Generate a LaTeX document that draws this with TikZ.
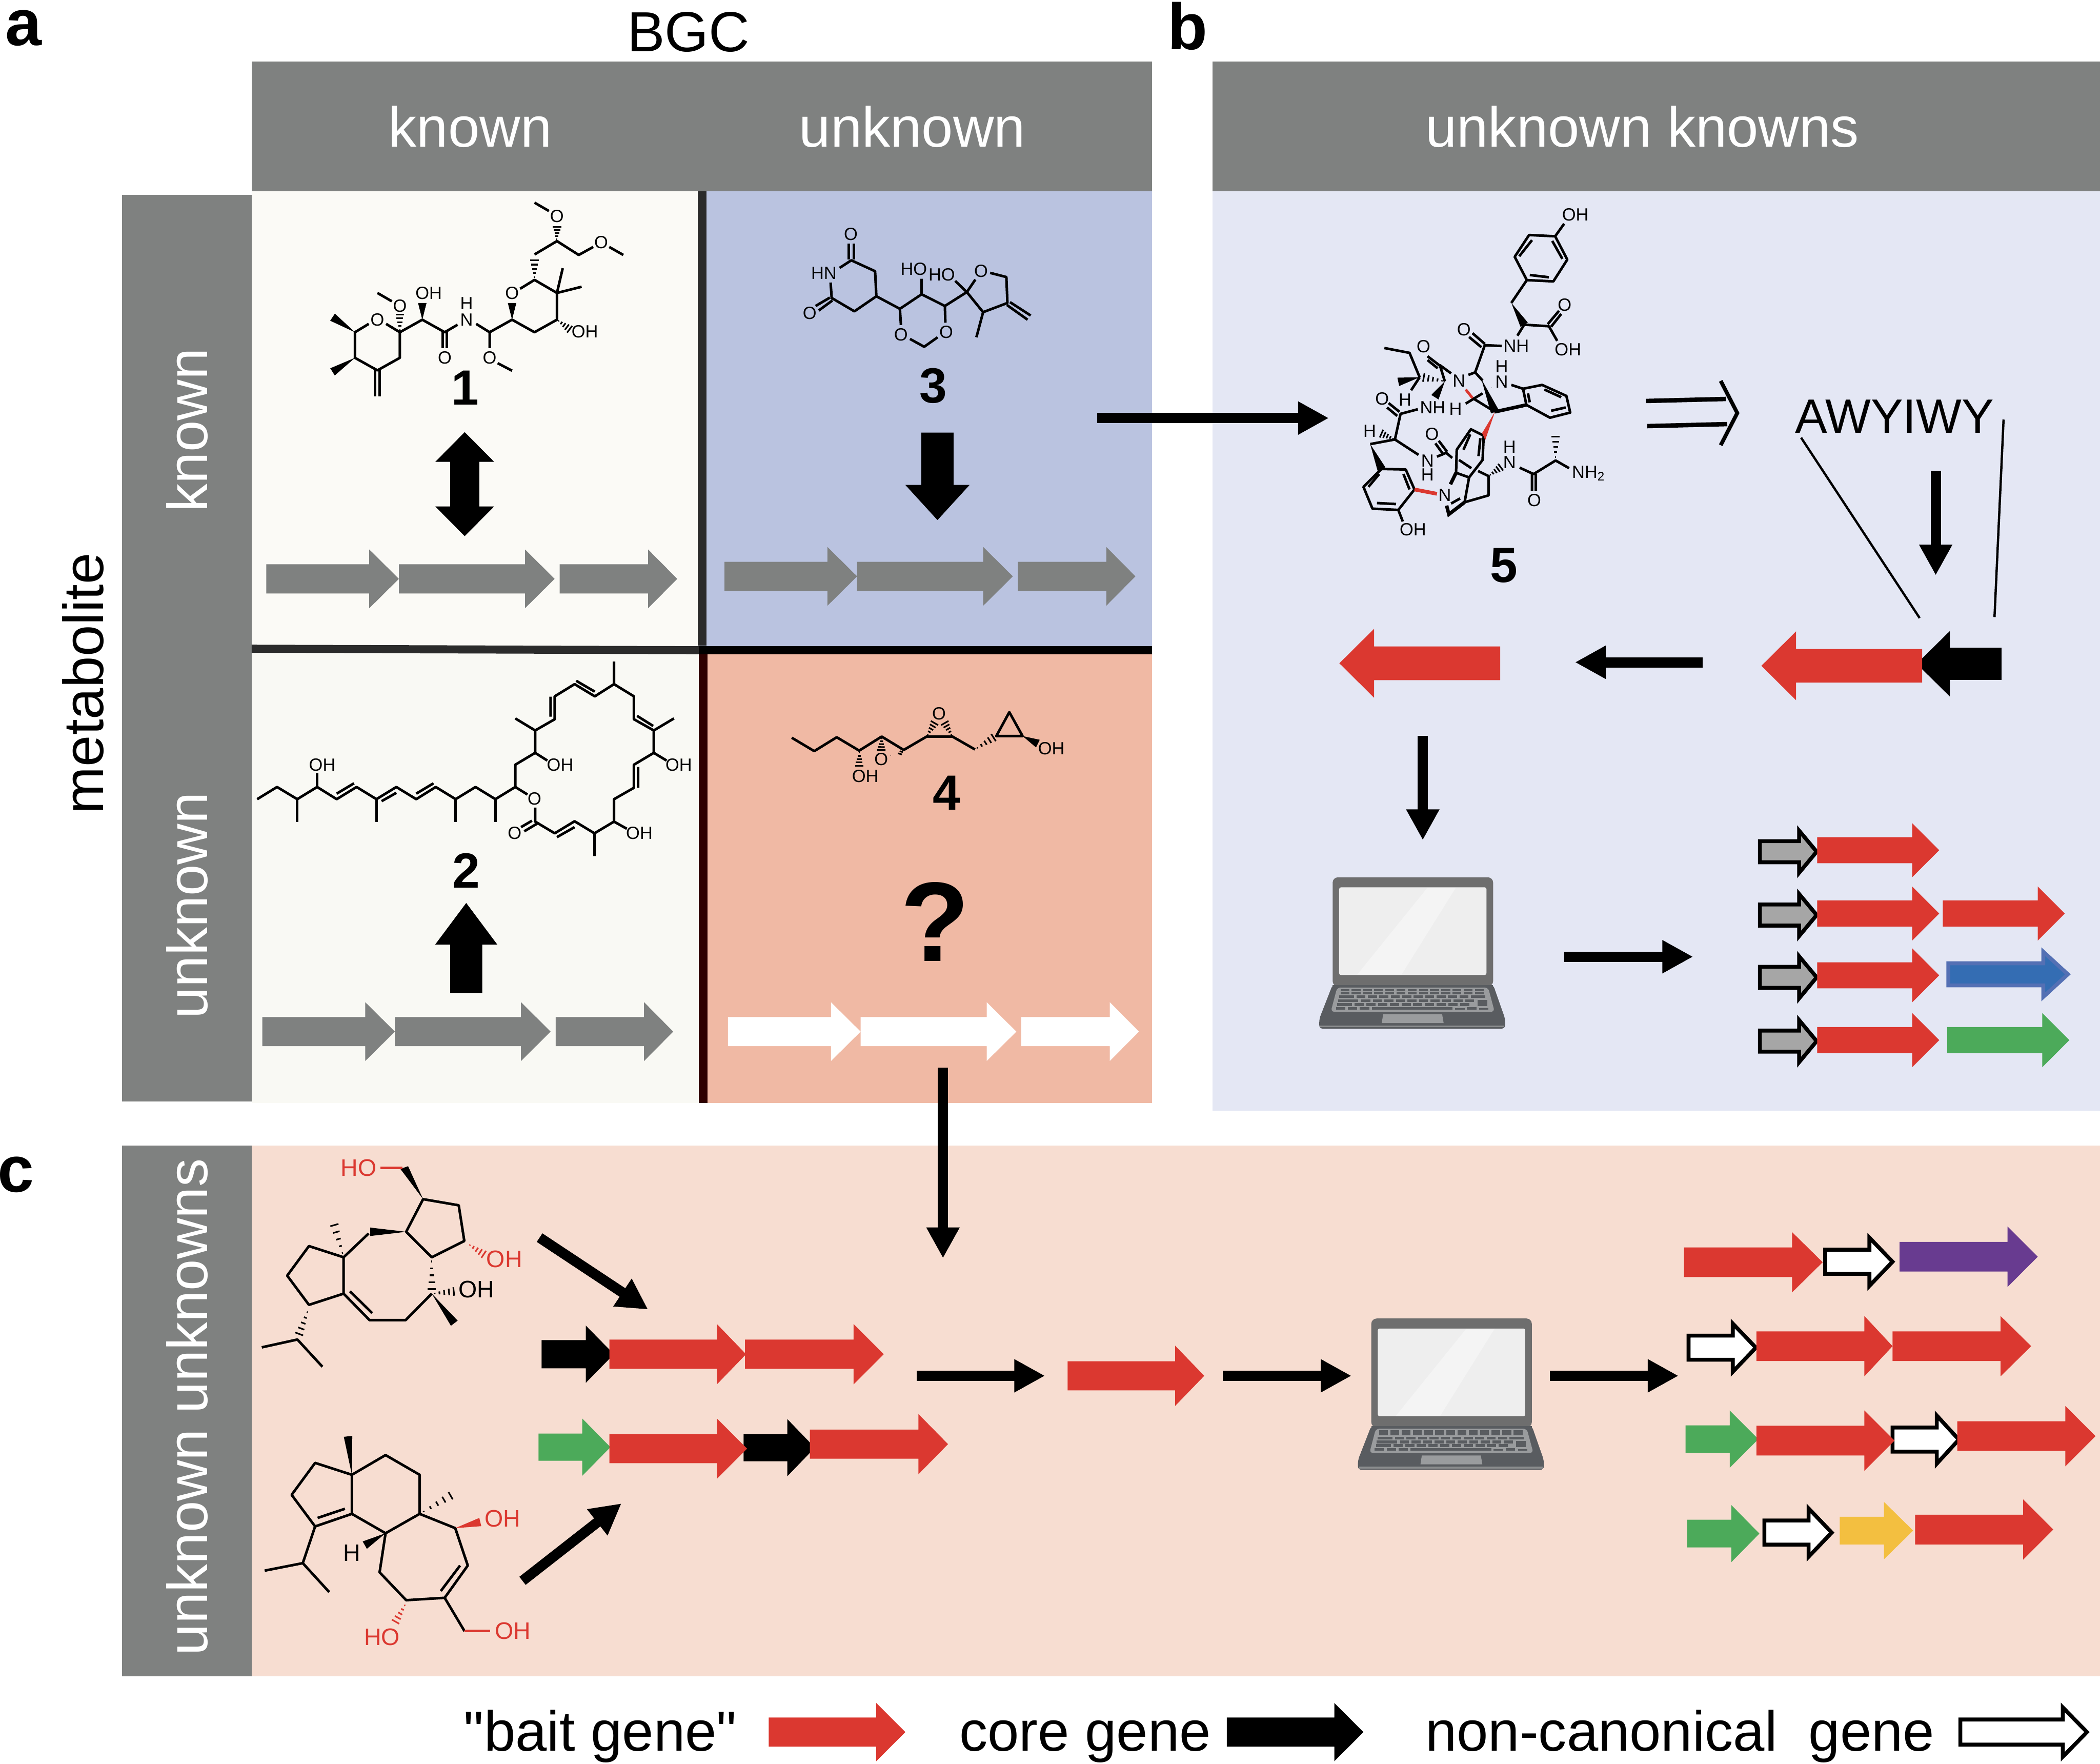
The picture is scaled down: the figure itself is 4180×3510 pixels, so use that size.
\documentclass[tikz,border=0pt]{standalone}
\usepackage{fontspec}
\setmainfont{Liberation Sans}
\newfontfamily\plainsans{Liberation Sans}
\usetikzlibrary{calc,arrows.meta}
\definecolor{hdrgray}{HTML}{7F8180}
\definecolor{cellA}{HTML}{FBFAF6}
\definecolor{cellB}{HTML}{BAC3E0}
\definecolor{cellC}{HTML}{F9F9F4}
\definecolor{cellD}{HTML}{F0B9A4}
\definecolor{panelB}{HTML}{E4E7F4}
\definecolor{panelC}{HTML}{F7DDD1}
\definecolor{genered}{HTML}{DB3830}
\definecolor{genegreen}{HTML}{4CAA5A}
\definecolor{genepurple}{HTML}{683B90}
\definecolor{geneyellow}{HTML}{F3BF40}
\definecolor{geneblue}{HTML}{346DB3}
\definecolor{geneblueb}{HTML}{5470B4}
\definecolor{genegray}{HTML}{A6A6A6}
\definecolor{lpLid}{HTML}{6E6E6E}
\definecolor{lpBase}{HTML}{595C60}
\definecolor{lpKey}{HTML}{9A9C9E}
\tikzset{
  bond/.style={line width=1.45pt,line cap=butt,line join=round},
  flowline/.style={line width=5.8pt,-{Triangle[length=17.4pt,width=17.6pt]}},
  thinln/.style={line width=1.3pt},
  hdrtext/.style={text=white,font=\fontsize{32}{36}\selectfont,inner sep=0pt},
  hdrbase/.style={hdrtext,anchor=base},
  blacktext/.style={text=black,font=\fontsize{32}{36}\selectfont,inner sep=0pt},
  legendtext/.style={blacktext,anchor=base,font=\plainsans\fontsize{32}{36}\selectfont},
  panellbl/.style={text=black,font=\bfseries\fontsize{37}{40}\selectfont,inner sep=0pt},
  cmpd/.style={text=black,font=\bfseries\fontsize{28}{30}\selectfont,inner sep=0pt},
  atomlbl/.style={inner sep=0pt,font=\fontsize{10}{10.5}\selectfont},
  atomlblb/.style={inner sep=0pt,font=\fontsize{13.5}{14}\selectfont},
}
\newcounter{atc}\newcounter{flc}
\newcommand\atm[3][black]{\stepcounter{atc}\node[atomlbl,text=#1] (at\theatc) at (#2) {#3};}
\newcommand\atb[3][black]{\stepcounter{atc}\node[atomlblb,text=#1] (at\theatc) at (#2) {#3};}
\newcommand\flow[2]{\stepcounter{flc}\coordinate (f\theflc s) at (#1);\coordinate (f\theflc e) at (#2);\draw[flowline] (f\theflc s) -- (f\theflc e);}
\newcommand\wdg[3][black]{\fill[#1] (#2) -- ($(#3)!2.4pt!90:(#2)$) -- ($(#3)!2.4pt!-90:(#2)$) -- cycle;}
\newcommand\hsh[3][black]{\foreach \hT in {0.12,0.32,0.52,0.72,0.92}{\draw[#1,line width=.9pt] ($($(#2)!\hT!(#3)$)!\hT*2.6pt!90:(#3)$) -- ($($(#2)!\hT!(#3)$)!\hT*2.6pt!-90:(#3)$);}}
% block arrow: style, tail x, head base x, tip x, y, shaft half, head half
\newcommand\barr[7]{\path[#1] (#2,{#5-#6}) -- (#3,{#5-#6}) -- (#3,{#5-#7}) -- (#4,#5) -- (#3,{#5+#7}) -- (#3,{#5+#6}) -- (#2,{#5+#6}) -- cycle;}
% outlined block arrow (outer dimensions given, left to right), stroke colour, fill, ...
\newcommand\oarr[8]{\path[draw=#1,fill=#2,line width=2.2pt,line join=miter] ({#3+4},{#6-#7+4}) -- ({#4+4},{#6-#7+4}) -- ({#4+4},{#6-#8+9}) -- ({#5-6},#6) -- ({#4+4},{#6+#8-9}) -- ({#4+4},{#6+#7-4}) -- ({#3+4},{#6+#7-4}) -- cycle;}
\newcommand\laptop[2]{%
\begin{scope}[shift={(#1,#2)},x=0.003333cm,y=-0.003333cm]
 \fill[lpBase,rounded corners=2pt] (218,720) -- (1178,720) -- (1250,925) -- (1250,983) -- (138,983) -- (138,925) -- cycle;
 \fill[lpLid,rounded corners=3pt] (218,730) -- (218,78) -- (1178,78) -- (1178,730) -- cycle;
 \fill[lpBase] (218,722) rectangle (1178,732);
 \fill[lpKey!90!black] (145,965) rectangle (1243,975);
 \fill[lpKey,rounded corners=2pt] (245,737) -- (1148,737) -- (1187,882) -- (207,882) -- cycle;
 \fill[lpKey] (520,897) -- (873,897) -- (882,950) -- (512,950) -- cycle;
 \fill[white!88!lpLid,rounded corners=1pt] (257,138) rectangle (1138,662);
 \fill[white!92!lpLid] (365,660) -- (785,140) -- (955,140) -- (630,660) -- cycle;
 \begin{scope}[lpBase]
  \foreach \kI in {0,...,12}{\fill ({265+67*\kI},747) rectangle ++(53,13); \fill ({265+67*\kI},763) rectangle ++(53,14);}
  \fill (257,785) rectangle (345,800); \fill (1045,785) rectangle (1130,800);
  \foreach \kI in {0,...,9}{\fill ({360+68.5*\kI},785) rectangle ++(54,15);}
  \fill (250,808) rectangle (372,825); \foreach \kI in {0,...,9}{\fill ({390+69*\kI},808) rectangle ++(54,17);}
  \fill (245,830) rectangle (335,847); \foreach \kI in {0,...,9}{\fill ({350+70*\kI},830) rectangle ++(55,17);}
  \fill (1085,810) rectangle (1142,847);
  \fill (238,853) rectangle (293,869); \fill (310,853) rectangle (365,869); \fill (380,853) rectangle (437,869);
  \fill (452,853) rectangle (935,869); \fill (950,860) rectangle (1008,869); \fill (1022,853) rectangle (1078,869); \fill (1095,860) rectangle (1150,869);
 \end{scope}
\end{scope}}
\begin{document}
\begin{tikzpicture}[x=0.01cm,y=-0.01cm]
\path[use as bounding box,fill=white] (0,0) rectangle (4180,3510);
% panel a
\fill[hdrgray] (501,122) rectangle (2293,381);
\fill[hdrgray] (243,388) rectangle (501,2192);
\fill[cellA] (501,381) rectangle (1392,1290);
\fill[cellB] (1392,381) rectangle (2293,1295);
\fill[cellC] (501,1290) rectangle (1395,2195);
\fill[cellD] (1395,1295) rectangle (2293,2195);
\fill[black!83] (1389,381) rectangle (1406,1285);
\fill[black!83] (501,1283) -- (1391,1286) -- (1391,1302) -- (501,1299) -- cycle;
\fill[black] (1391,1286) rectangle (2293,1302);
\fill[black!70!red!60!black] (1391,1302) rectangle (1408,2195);
% panel b
\fill[hdrgray] (2413,122) rectangle (4180,381);
\fill[panelB] (2413,381) rectangle (4180,2210);
% panel c
\fill[hdrgray] (243,2280) rectangle (501,3336);
\fill[panelC] (501,2280) rectangle (4180,3336);
% titles
\node[panellbl] (la) at (47,56) {a};
\node[panellbl] (lb) at (2364,52) {b};
\node[panellbl] (lc) at (32,2338) {c};
\node[blacktext] (tBGC) at (1370,64) {BGC};
\node[hdrbase] (h1) at (936,292) {known};
\node[hdrbase] (h2) at (1816,292) {unknown};
\node[hdrbase] (h3) at (3269,292) {unknown knowns};
\node[hdrtext,rotate=90] (v1) at (373,856) {known};
\node[hdrtext,rotate=90] (v2) at (373,1802) {unknown};
\node[hdrtext,rotate=90] (v3) at (373,2800) {unknown unknowns};
\node[blacktext,rotate=90] (v4) at (165,1360) {metabolite};
% gene rows in panel a
\tikzset{gy/.style={fill=hdrgray},wh/.style={fill=white},rd/.style={fill=genered},bk/.style={fill=black},gn/.style={fill=genegreen},pp/.style={fill=genepurple},yl/.style={fill=geneyellow}}
\barr{gy}{530}{735}{794}{1152}{29}{58.5}\barr{gy}{794}{1045}{1104}{1152}{29}{58.5}\barr{gy}{1114}{1290}{1348}{1152}{29}{58.5}
\barr{gy}{1442}{1647}{1706}{1147}{29}{58.5}\barr{gy}{1706}{1957}{2016}{1147}{29}{58.5}\barr{gy}{2026}{2202}{2260}{1147}{29}{58.5}
\barr{gy}{522}{727}{786}{2053}{29}{58.5}\barr{gy}{786}{1037}{1096}{2053}{29}{58.5}\barr{gy}{1106}{1282}{1340}{2053}{29}{58.5}
\barr{wh}{1449}{1654}{1713}{2053}{29}{58.5}\barr{wh}{1713}{1964}{2023}{2053}{29}{58.5}\barr{wh}{2033}{2209}{2267}{2053}{29}{58.5}
% big black arrows panel a
\fill[black] (925,860) -- (983.5,919) -- (954,919) -- (954,1008) -- (983.5,1008) -- (925,1067) -- (866.5,1008) -- (896,1008) -- (896,919) -- (866.5,919) -- cycle;
\fill[black] (1866,1035) -- (1802,965) -- (1834,965) -- (1834,861) -- (1898,861) -- (1898,965) -- (1930,965) -- cycle;
\fill[black] (928,1797) -- (990,1880) -- (960,1880) -- (960,1976) -- (896,1976) -- (896,1880) -- (866,1880) -- cycle;
\node[text=black,font=\bfseries\fontsize{64}{66}\selectfont,inner sep=0pt] (qm) at (1861,1834) {?};
% molecule 1
\begin{scope}[shift={(480,370)},x=0.006378cm,y=-0.003333cm]
\draw[bond] (398,825) -- (355,875) -- (355,1028) -- (425,1103) -- (495,1028) -- (495,875) -- (452,825);
\draw[bond] (418,1103) -- (418,1260) (432,1103) -- (432,1260);
\wdg{355,875}{285,785}\wdg{355,1028}{285,1112}
\hsh{495,875}{495,760}
\draw[bond] (470,690) -- (425,640);
\draw[bond] (495,875) -- (565,800) -- (635,875) -- (675,830);
\wdg{565,800}{565,700}
\draw[bond] (628,875) -- (628,970) (642,875) -- (642,970);
\draw[bond] (733,825) -- (775,875) -- (775,970) (800,1060) -- (845,1105);
\draw[bond] (775,875) -- (845,800) -- (915,875) -- (985,800) -- (985,640) -- (915,562) -- (870,615);
\wdg{845,800}{845,700}
\hsh{985,800}{1028,862}
\draw[bond] (985,640) -- (1003,492) (985,640) -- (1062,603);
\hsh{915,562}{915,435}
\draw[bond] (915,410) -- (985,330) -- (1053,413) -- (1098,365) (1148,365) -- (1192,413);
\hsh{985,330}{985,238}
\draw[bond] (960,150) -- (915,100);
\atm{425,800}{O}\atm{495,718}{O}\atm{585,642}{OH}\atm{635,1028}{O}\atm{703,800}{N}\atm{703,702}{H}\atm{775,1028}{O}\atm{845,642}{O}\atm{1072,872}{OH}\atm{1123,338}{O}\atm{985,180}{O}
\end{scope}
\node[cmpd] (c1) at (926,772) {1};
% molecule 2
\begin{scope}[shift={(480,1260)},x=0.006378cm,y=-0.003333cm]
\draw[bond] (50,993) -- (112,920) -- (175,993) -- (237,920) -- (298,993) -- (360,920) -- (422,993) -- (484,920) -- (546,993) -- (607,920) -- (669,993) -- (731,920) -- (793,993) -- (855,920) -- (893,965);
\draw[bond] (175,993) -- (175,1128) (422,993) -- (422,1128) (669,993) -- (669,1128) (793,993) -- (793,1128) (237,920) -- (237,838);
\draw[bond] (298,960) -- (352,898) (438,1005) -- (484,955) (546,960) -- (600,898);
\draw[bond] (855,920) -- (855,787) -- (917,716) -- (917,582) -- (855,510) (917,716) -- (955,762);
\draw[bond] (917,582) -- (978,515) -- (978,378) -- (1040,305) -- (1103,378) -- (1163,305) -- (1163,170) (1163,305) -- (1225,378) -- (1225,515) -- (1287,582) -- (1350,510) (1287,582) -- (1287,716) -- (1225,787) -- (1225,925) -- (1163,993) -- (1163,1127) -- (1102,1197) -- (1040,1125) -- (978,1197) -- (917,1127) -- (917,1043);
\draw[bond] (1163,1127) -- (1203,1170) (1102,1197) -- (1102,1333) (1287,716) -- (1327,762);
\draw[bond] (907,1122) -- (873,1160) (925,1137) -- (883,1185);
\draw[bond] (965,380) -- (965,500) (1045,285) -- (1103,350) (1235,495) -- (1285,555) (1238,800) -- (1238,925) (985,1220) -- (1040,1160);
\atm{253,787}{OH}\atm{915,990}{O}\atm{995,787}{OH}\atm{1365,787}{OH}\atm{1242,1197}{OH}\atm{853,1197}{O}
\end{scope}
\node[cmpd] (c2) at (928,1733) {2};
% molecule 3
\begin{scope}[shift={(1500,370)},x=0.005141cm,y=-0.003333cm]
\draw[bond] (333,490) -- (378,445) -- (470,510) -- (475,660) -- (390,750) -- (302,670) -- (298,578);
\draw[bond] (368,440) -- (368,345) (388,440) -- (388,345);
\draw[bond] (295,668) -- (240,718) (305,685) -- (252,745);
\draw[bond] (475,660) -- (566,735) -- (650,648) -- (740,718) -- (825,635) (650,648) -- (650,555);
\draw[bond] (566,735) -- (570,832) (605,915) -- (660,962) -- (712,905) (742,818) -- (740,718);
\draw[bond] (825,635) -- (780,568) (825,635) -- (858,560) (915,520) -- (978,545) -- (982,700) -- (888,755) -- (825,635) (888,755) -- (862,905);
\draw[bond] (980,712) -- (1060,800) (992,695) -- (1072,775);
\atm{376,287}{O}\atm{272,522}{HN}\atm{217,762}{O}\atm{620,497}{HO}\atm{728,530}{HO}\atm{880,510}{O}\atm{570,888}{O}\atm{745,875}{O}
\end{scope}
\node[cmpd] (c3) at (1858,768) {3};
% molecule 4
\begin{scope}[shift={(1500,1380)},x=0.004464cm,y=-0.003333cm]
\draw[bond] (170,265) -- (270,345) -- (370,262) -- (470,342) -- (570,258) -- (668,338) -- (770,258) -- (885,258) -- (985,335);
\hsh{470,342}{470,440}\hsh{570,258}{568,345}
\draw[line width=.9pt] (650,345) -- (664,351) (642,358) -- (660,365);
\hsh{770,258}{808,170}\hsh{885,258}{848,170}\hsh{985,335}{1075,258}
\draw[bond] (1080,255) -- (1197,255) -- (1138,112) -- cycle;
\wdg{1197,255}{1265,300}
\fill (610,372) circle (1.2);
\atm{497,495}{OH}\atm{568,395}{O}\atm{825,122}{O}\atm{1325,330}{OH}
\end{scope}
\node[cmpd] (c4) at (1884,1578) {4};
% flow arrows a->b, 4->c
\flow{2184,832}{2645,832}
\flow{1877,2125}{1877,2504}
% molecule 5
\begin{scope}[shift={(2620,380)},x=0.004464cm,y=-0.0051cm]
\draw[bond] (1063,177) -- (1117,268) -- (1055,353) -- (937,348) -- (883,257) -- (947,172) -- cycle;
\draw[bond] (1050,195) -- (1095,265) (1035,337) -- (950,328) (903,255) -- (960,192);
\draw[bond] (1063,177) -- (1103,128) (937,348) -- (868,437);
\wdg{868,437}{925,522}
\draw[bond] (925,522) -- (1035,528) -- (1072,585) (1030,520) -- (1080,468) (1045,530) -- (1090,480) (925,522) -- (895,565);
\draw[bond] (825,605) -- (750,602) -- (707,708) -- (677,718);
\draw[bond] (750,597) -- (695,555) (735,610) -- (680,570);
\draw[bond] (600,712) -- (550,680) -- (572,743) (550,682) -- (495,645) (540,692) -- (495,660);
\wdg{572,743}{528,805}
\hsh{572,743}{470,727}
\draw[bond] (460,727) -- (415,632) -- (303,613) (460,727) -- (422,778);
\wdg{460,727}{365,745}
\draw[bond] (452,852) -- (375,870) -- (350,970) (370,862) -- (322,828) (360,878) -- (315,845);
\hsh{350,970}{285,945}
\draw[bond] (350,970) -- (240,988) (350,970) -- (455,1030);
\wdg{240,988}{290,1085}
\draw[bond] (537,1037) -- (578,1022) -- (605,1042) (565,1028) -- (530,985) (582,1018) -- (545,975);
\draw[bond] (290,1085) -- (398,1087) -- (437,1165) -- (365,1245) -- (250,1240) -- (210,1155) -- cycle;
\draw[bond] (280,1105) -- (232,1155) (388,1105) -- (415,1165) (270,1218) -- (355,1222) (365,1245) -- (385,1290);
\draw[genered,line width=2.1pt] (437,1165) -- (537,1182);
\draw[bond] (688,930) -- (745,955) -- (740,1050) -- (680,1118) -- (622,1100) -- (625,1010) -- cycle;
\draw[bond] (730,965) -- (722,1035) (685,950) -- (655,1010) (635,1050) -- (690,1082);
\fill[genered] (795,862) -- (752,972) -- (738,945) -- cycle;
\draw[line width=2pt] (795,862) -- (935,835);
\draw[bond] (935,835) -- (920,772) -- (1005,757) -- (1113,800) -- (1130,865) -- (1040,885) -- cycle;
\draw[bond] (950,825) -- (942,790) (1015,775) -- (1090,805) (1045,858) -- (1110,845) (920,772) -- (868,757);
\draw[bond] (707,708) -- (740,740);
\wdg{735,735}{795,862}
\draw[bond] (740,790) -- (665,830) (695,808) -- (795,862);
\draw[genered,line width=1.5pt] (665,775) -- (695,808);
\fill (780,768) circle (1.2);
\draw[line width=2pt] (597,1145) -- (622,1100);
\draw[bond] (680,1118) -- (660,1215) (660,1215) -- (767,1188) -- (767,1113) -- (720,1093) (600,1220) -- (640,1200);
\draw[line width=2pt] (660,1215) -- (590,1262) -- (580,1228);
\hsh{767,1113}{825,1075}
\draw[bond] (905,1080) -- (967,1105) -- (1065,1052) -- (1125,1082) (960,1105) -- (960,1170) (977,1105) -- (977,1170);
\hsh{1065,1052}{1065,950}
\atm{1153,93}{OH}\atm{1105,445}{O}\atm{1120,618}{OH}\atm{890,605}{NH}\atm{657,540}{O}\atm{635,742}{N}\atm{825,745}{N}\atm{825,685}{H}\atm{477,607}{O}\atm{395,815}{H}\atm{518,845}{NH}\atm{620,852}{H}\atm{293,812}{O}\atm{238,938}{H}\atm{495,1053}{N}\atm{495,1108}{H}\atm{515,950}{O}\atm{430,1322}{OH}\atm{572,1188}{N}\atm{860,1060}{N}\atm{860,1000}{H}\atm{970,1207}{O}\atm{1212,1102}{NH$_{\mathrm{2}}$}
\end{scope}
\node[cmpd] (c5) at (2993,1125) {5};
% panel b reaction scheme
\draw[line width=2.5pt] (3276,798) -- (3435,794) (3279,848) -- (3438,844);
\draw[line width=2.2pt,line join=miter] (3425,758) -- (3458,822) -- (3425,886);
\node[text=black,font=\fontsize{27.3}{30}\selectfont,inner sep=0pt] (seq) at (3771,829) {AWYIWY};
\draw[thinln] (3585,871) -- (3821,1230) (3988,835) -- (3970,1228);
\flow{3853,937}{3853,1145}
\barr{bk}{3984}{3881}{3815}{1321}{32}{65}
\barr{rd}{3826}{3575}{3506}{1325}{33.5}{68.5}
\flow{3389,1318}{3135,1318}
\barr{rd}{2986}{2735}{2666}{1320}{33.5}{68.5}
\flow{2832,1464}{2832,1672}
\laptop{2580}{1720}
\flow{3114,1904}{3370,1904}
% right gene rows panel b
\oarr{black}{genegray}{3499}{3577}{3622}{1695}{25}{51}
\oarr{black}{genegray}{3499}{3577}{3622}{1821}{25}{51}
\oarr{black}{genegray}{3499}{3577}{3622}{1945}{25}{51}
\oarr{black}{genegray}{3499}{3577}{3622}{2072}{25}{51}
\barr{rd}{3617}{3806}{3860}{1692}{26}{54}
\barr{rd}{3617}{3806}{3860}{1818}{26}{54}
\barr{rd}{3867}{4056}{4110}{1818}{26}{54}
\barr{rd}{3617}{3806}{3860}{1941}{26}{54}
\oarr{geneblueb}{geneblue}{3874}{4063}{4122}{1939}{26}{54}
\barr{rd}{3617}{3806}{3860}{2070}{26}{54}
\barr{gn}{3876}{4065}{4119}{2070}{26}{54}
% panel c molecules
\begin{scope}[shift={(500,2260)},x=0.003827cm,y=-0.00676cm]
\draw[bond] (893,187) -- (1078,205) -- (1107,310) -- (938,358) -- (805,283) -- cycle;
\fill (893,187) -- (815,90) -- (775,98) -- cycle;
\draw[genered,bond] (672,95) -- (785,95);
\hsh[genered]{1125,318}{1215,352}
\hsh{938,358}{938,460}
\hsh{938,465}{1062,458}
\wdg{938,465}{1055,552}
\draw[bond] (938,465) -- (802,543) -- (615,543) -- (480,465) -- (480,358) (628,522) -- (513,458);
\draw[bond] (480,358) -- (300,325) -- (187,412) -- (300,498) -- (480,465) (480,358) -- (610,288);
\wdg{805,283}{618,283}
\hsh{480,358}{428,255}
\hsh{298,510}{245,590}
\draw[bond] (55,623) -- (240,600) -- (370,680);
\atb[genered]{558,95}{HO}\atb[genered]{1315,363}{OH}\atb{1170,452}{OH}
\draw[bond] (523,998) -- (332,963) -- (210,1057) -- (332,1150) -- (523,1113) -- cycle (345,1125) -- (487,1098);
\wdg{523,998}{503,885}
\draw[bond] (523,998) -- (698,940) -- (875,998) -- (875,1113) -- (698,1170) -- (523,1113);
\hsh{875,1113}{1050,1055}
\draw[bond] (875,1113) -- (1060,1155) -- (1125,1265) -- (1005,1360) -- (805,1367) -- (667,1285) -- (698,1170) (1085,1265) -- (985,1340) (1005,1360) -- (1108,1458);
\wdg[genered]{1060,1155}{1190,1137}
\draw[genered,bond] (1108,1458) -- (1240,1458);
\hsh[genered]{805,1375}{745,1435}
\wdg{698,1170}{590,1205}
\draw[bond] (332,1150) -- (268,1258) -- (70,1280) (268,1258) -- (405,1343);
\atb[genered]{1305,1127}{OH}\atb[genered]{1360,1458}{OH}\atb[genered]{680,1475}{HO}\atb{523,1228}{H}
\end{scope}
% panel c flows and genes
\flow{1074,2463}{1290,2606}
\flow{1040,3146}{1237,2992}
\barr{bk}{1078}{1166}{1222}{2695}{28}{57}
\barr{rd}{1213}{1427}{1485}{2695}{29}{60}
\barr{rd}{1483}{1699}{1759}{2695}{29}{60}
\barr{gn}{1072}{1159}{1215}{2880}{27}{57}
\barr{bk}{1480}{1567}{1622}{2881}{27}{57}
\barr{rd}{1213}{1427}{1487}{2883}{29}{60}
\barr{rd}{1612}{1828}{1887}{2874}{29}{60}
\flow{1825,2738}{2080,2738}
\barr{rd}{2125}{2339}{2397}{2738}{29}{60}
\flow{2434,2738}{2690,2738}
\laptop{2657}{2598}
\flow{3085,2738}{3341,2738}
\barr{rd}{3352}{3567}{3628}{2512}{29.5}{60}
\oarr{black}{white}{3629}{3717}{3773}{2511}{28}{57}
\barr{pp}{3781}{3996}{4056}{2501}{29.5}{60}
\oarr{black}{white}{3357}{3445}{3501}{2682}{28}{57}
\barr{rd}{3496}{3711}{3767}{2679}{29.5}{60}
\barr{rd}{3767}{3982}{4043}{2679}{29.5}{60}
\barr{gn}{3355}{3443}{3500}{2864}{27.5}{57}
\oarr{black}{white}{3763}{3851}{3905}{2865}{28}{57}
\barr{rd}{3496}{3711}{3771}{2867}{29.5}{60}
\barr{rd}{3896}{4111}{4171}{2858}{29.5}{60}
\barr{gn}{3358}{3446}{3502}{3052}{27.5}{57}
\oarr{black}{white}{3508}{3596}{3652}{3050}{28}{57}
\barr{yl}{3662}{3750}{3808}{3046}{27.5}{57}
\barr{rd}{3812}{4027}{4087}{3044}{29.5}{60}
% legend
\node[legendtext] (t1) at (1195,3484) {"bait gene"};
\barr{rd}{1530}{1744}{1802}{3447}{29}{58}
\node[legendtext] (t2) at (2160,3484) {core gene};
\barr{bk}{2442}{2656}{2714}{3447}{29}{58}
\node[legendtext] (t3) at (3344,3484) {non-canonical\ \ gene};
\oarr{black}{white}{3898}{4102}{4160}{3447}{29}{58}
\end{tikzpicture}
\end{document}
